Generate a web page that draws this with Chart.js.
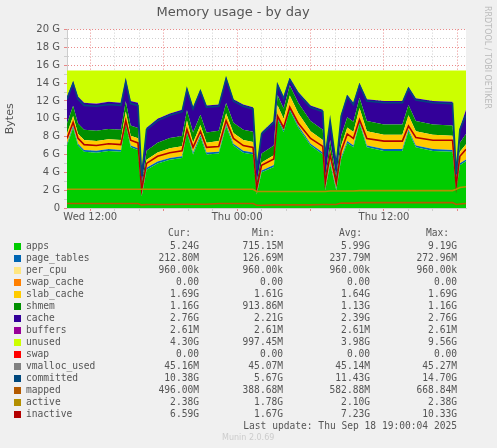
<!DOCTYPE html>
<html><head><meta charset="utf-8">
<script src="https://cdn.jsdelivr.net/npm/chart.js@4"></script>
<style>
body{margin:0;background:#f0f0f0;width:497px;height:448px;overflow:hidden;position:relative;font-family:"DejaVu Sans Mono",monospace;}
#wrap{position:absolute;left:0;top:0;width:497px;height:228px;}
.t{position:absolute;font-size:9.6px;color:#555;white-space:pre;}
.sw{position:absolute;width:7px;height:7px;}
</style></head><body>
<div id="wrap"><canvas id="c" width="497" height="228"></canvas></div>
<div class="t" style="transform:rotate(90deg);transform-origin:left top;left:492px;top:6px;color:#bbb;font-family:'DejaVu Sans';font-size:8px;">RRDTOOL / TOBI OETIKER</div>
<div id="leg"></div>
<div class="t" style="left:222px;top:433px;color:#ccc;font-family:'DejaVu Sans';font-size:8px;">Munin 2.0.69</div>
<script>
// hours relative to Wed 12:00
const hours=[-1.9,-1.4,-1.0,-0.5,0.5,1.5,2.5,2.9,3.3,3.9,4.2,4.6,5.5,6.5,7.5,7.9,8.4,9.0,9.5,10.5,11.1,11.7,12.5,13.3,13.6,14.0,15.0,15.3,15.8,16.3,17.0,18.0,19.0,19.2,19.6,20.1,20.5,21.0,21.5,22.0,22.6,24.0,25.5,26.0,26.6,28.0,29.6,29.9,30.2,30.7];
const used=[12.5,14.2,12.5,11.8,11.7,11.9,11.8,14.5,12.0,11.8,3.8,9.0,10.0,10.6,11.0,13.5,11.3,13.3,11.5,11.6,14.7,12.2,11.6,11.3,4.5,8.5,9.8,14.0,12.5,14.6,13.0,11.5,11.0,6.0,10.0,5.0,10.5,12.7,11.8,14.0,12.2,12.0,12.0,13.6,12.3,12.0,11.9,4.0,9.0,11.0];
const apps=[7.0,9.0,7.0,6.3,6.2,6.4,6.3,9.5,6.8,6.5,1.3,4.3,5.0,5.4,5.6,8.5,6.0,8.0,6.0,6.1,9.2,7.0,6.2,6.0,1.5,4.0,4.6,10.0,8.5,11.0,9.0,7.0,6.0,2.0,5.0,2.0,5.5,7.3,6.8,9.5,6.8,6.4,6.4,8.6,6.8,6.4,6.3,2.0,4.8,5.24];
const slab=[1.1,1.1,1.1,1.1,1.1,1.1,1.1,1.1,1.1,1.1,0.5,0.9,1.0,1.1,1.1,1.1,1.1,1.1,1.1,1.2,1.2,1.2,1.2,1.2,0.5,0.9,1.1,1.3,1.3,1.4,1.4,1.4,1.4,0.6,1.3,0.6,1.3,1.5,1.5,1.5,1.6,1.6,1.6,1.6,1.6,1.6,1.6,0.5,1.3,1.69];
const shmem=[1.15,1.15,1.15,1.15,1.15,1.15,1.15,1.15,1.15,1.15,0.6,1.0,1.1,1.15,1.15,1.15,1.15,1.15,1.15,1.15,1.15,1.15,1.15,1.15,0.6,1.0,1.1,1.15,1.15,1.15,1.15,1.15,1.15,0.7,1.1,0.7,1.1,1.15,1.15,1.15,1.15,1.15,1.15,1.15,1.15,1.15,1.15,0.6,1.0,1.16];
const inactive=[7.8,9.6,7.8,7.1,7.0,7.2,7.1,9.8,7.6,7.3,2.0,5.0,5.8,6.2,6.4,8.8,6.8,8.6,6.8,6.9,9.8,7.8,7.0,6.8,2.2,4.8,5.5,10.3,9.0,11.3,9.5,7.8,6.9,2.8,6.0,2.8,6.4,8.3,7.8,9.9,7.8,7.5,7.5,9.2,7.9,7.6,7.6,2.5,5.8,6.59];
const committed=[12.2,14.0,12.2,11.5,11.4,11.6,11.5,14.2,11.7,11.5,3.6,8.8,9.8,10.4,10.8,13.3,11.1,13.1,11.3,11.4,14.5,12.0,11.4,11.1,4.3,8.3,9.6,13.8,12.3,14.4,12.8,11.3,10.8,5.8,9.8,4.8,10.3,12.5,11.6,13.8,12.0,11.8,11.8,13.4,12.1,11.8,11.7,3.8,8.8,10.38];
const active=[2.1,2.1,2.1,2.1,2.1,2.1,2.1,2.1,2.1,2.1,2.1,2.1,2.1,2.1,2.1,2.1,2.1,2.1,2.1,2.1,2.1,2.1,2.1,2.1,1.85,1.85,1.85,1.85,1.85,1.85,1.85,1.85,1.85,1.85,1.9,1.9,1.9,1.9,1.9,1.95,1.95,1.95,1.95,1.95,1.95,1.95,1.95,2.1,2.3,2.38];
const mapped=[0.5,0.5,0.5,0.5,0.5,0.5,0.5,0.5,0.5,0.5,0.35,0.4,0.4,0.4,0.42,0.42,0.42,0.42,0.42,0.5,0.5,0.5,0.5,0.5,0.3,0.3,0.35,0.35,0.35,0.35,0.35,0.35,0.4,0.4,0.4,0.4,0.55,0.55,0.55,0.6,0.6,0.6,0.6,0.6,0.6,0.6,0.6,0.4,0.45,0.5];
const pageTables=0.21, perCpu=0.001, memTotal=15.4;
const tickHours=[0,12,24];
const tickLabels=["Wed 12:00","Thu 00:00","Thu 12:00"];
const legNames=["apps","page_tables","per_cpu","swap_cache","slab_cache","shmem","cache","buffers","unused","swap","vmalloc_used","committed","mapped","active","inactive"];
const legColors=["#00CC00","#0066B3","#FFE680","#FF8000","#FFCC00","#008F00","#330099","#990099","#CCFF00","#FF0000","#808080","#00487D","#B35A00","#B38F00","#B30000"];
const curV=["5.24G","212.80M","960.00k","0.00","1.69G","1.16G","2.76G","2.61M","4.30G","0.00","45.16M","10.38G","496.00M","2.38G","6.59G"];
const minV=["715.15M","126.69M","960.00k","0.00","1.61G","913.86M","2.21G","2.61M","997.45M","0.00","45.07M","5.67G","388.68M","1.78G","1.67G"];
const avgV=["5.99G","237.79M","960.00k","0.00","1.64G","1.13G","2.39G","2.61M","3.98G","0.00","45.14M","11.43G","582.88M","2.10G","7.23G"];
const maxV=["9.19G","272.96M","960.00k","0.00","1.69G","1.16G","2.76G","2.61M","9.56G","0.00","45.27M","14.70G","668.84M","2.38G","10.33G"];

const pts=a=>hours.map((h,i)=>({x:h,y:a[i]}));
const cnst=v=>hours.map(h=>({x:h,y:v}));
const cache=used.map((u,i)=>Math.max(0,u-apps[i]-pageTables-slab[i]-shmem[i]));
const unused=used.map(u=>memTotal-u);
const area=(label,data,col)=>({label,data,backgroundColor:col,borderColor:col,borderWidth:0,fill:'-1',pointRadius:0,stack:'s',tension:0,order:10});
const line=(label,data,col,st)=>({label,data,borderColor:col,borderWidth:1.6,fill:false,pointRadius:0,stack:st,tension:0,order:1});
const datasets=[
 Object.assign(area('apps',pts(apps),'#00CC00'),{fill:'origin'}),
 area('page_tables',cnst(pageTables),'#0066B3'),
 area('per_cpu',cnst(perCpu),'#FFE680'),
 area('swap_cache',cnst(0),'#FF8000'),
 area('slab_cache',pts(slab),'#FFCC00'),
 area('shmem',pts(shmem),'#008F00'),
 area('cache',pts(cache),'#330099'),
 area('buffers',cnst(0.003),'#990099'),
 area('unused',pts(unused),'#CCFF00'),
 line('committed',pts(committed),'#00487D','l1'),
 line('mapped',pts(mapped),'#B35A00','l2'),
 line('active',pts(active),'#B38F00','l3'),
 line('inactive',pts(inactive),'#B30000','l4'),
];
new Chart(document.getElementById('c'),{type:'line',data:{datasets},
options:{responsive:false,animation:false,
 layout:{padding:{top:0,right:31,left:0,bottom:0}},
 plugins:{legend:{display:false},tooltip:{enabled:false},
  title:{display:true,text:'Memory usage - by day',color:'#555',font:{family:'DejaVu Sans',size:13,weight:'normal'},padding:{top:5,bottom:9}}},
 scales:{
  x:{type:'linear',min:-1.9,max:30.7,z:1,
   afterBuildTicks:s=>{const t=[];for(let h=0;h<=30;h+=2)t.push({value:h});s.ticks=t;},
   afterFit:s=>{s.height=20;},
   ticks:{autoSkip:false,maxRotation:0,color:'#555',font:{family:'DejaVu Sans',size:10},padding:0,
    callback:v=>{const k=tickHours.indexOf(v);return k>=0?tickLabels[k]:'';}},
   grid:{color:c=>(c.tick&&c.tick.value%6===0)?'rgba(230,110,110,0.8)':'rgba(190,190,190,0.7)',lineWidth:1,tickLength:3,drawTicks:true},
   border:{color:'#ccc',dash:[1,2]}},
  y:{stacked:true,min:0,max:20,z:1,
   afterBuildTicks:s=>{const t=[];for(let v=0;v<=20;v+=1)t.push({value:v});s.ticks=t;},
   afterFit:s=>{s.width=67;},
   title:{display:true,text:'Bytes',color:'#555',font:{family:'DejaVu Sans',size:11},padding:{bottom:4}},
   ticks:{autoSkip:false,color:'#555',font:{family:'DejaVu Sans',size:10},padding:4,
    callback:v=>v%2?'':(v===0?'0':v+' G')},
   grid:{color:c=>(c.tick&&c.tick.value%2===0)?'rgba(230,110,110,0.8)':'rgba(190,190,190,0.7)',lineWidth:1,tickLength:3},
   border:{color:'#ccc',dash:[1,2]}}
 }},
 plugins:[{id:'bg',beforeDraw:ch=>{const a=ch.chartArea,x=ch.ctx;x.save();x.fillStyle='#fff';x.fillRect(a.left,a.top,a.right-a.left,a.bottom-a.top);x.restore();}}]
});
// legend
const L=document.getElementById('leg');
let h='';
const hdr=[['Cur:',199],['Min:',283],['Avg:',370],['Max:',457]];
hdr.forEach(([t,r])=>h+=`<div class="t" style="right:${497-r+8}px;top:227px">${t}</div>`);
legNames.forEach((n,i)=>{const y=240+i*12;
 h+=`<div class="sw" style="left:14px;top:${y+3}px;background:${legColors[i]}"></div>`;
 h+=`<div class="t" style="left:26px;top:${y}px">${n}</div>`;
 [curV,minV,avgV,maxV].forEach((arr,k)=>h+=`<div class="t" style="right:${497-hdr[k][1]}px;top:${y}px">${arr[i]}</div>`);
});
h+=`<div class="t" style="right:40px;top:420px">Last update: Thu Sep 18 19:00:04 2025</div>`;
L.innerHTML=h;
</script></body></html>
